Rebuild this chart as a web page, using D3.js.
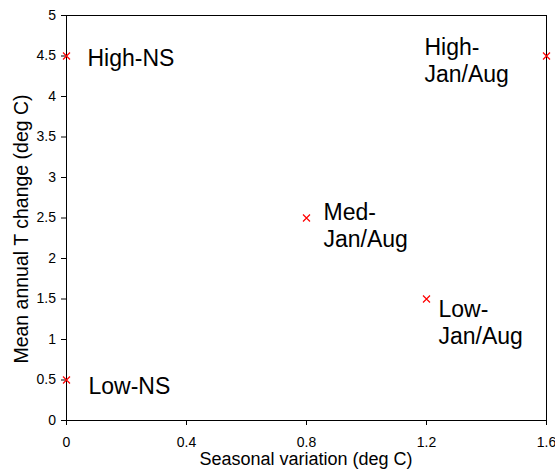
<!DOCTYPE html>
<html>
<head>
<meta charset="utf-8">
<script src="https://cdn.jsdelivr.net/npm/d3@7"></script>
<style>
  body { margin: 0; background: #fff; }
  svg text { font-family: "Liberation Sans", Arial, sans-serif; fill: #000; }
  .axis path, .axis line { stroke: #000; }
</style>
</head>
<body>
<div class="chart"></div>
<script>
// data
const scenarios = ['High-NS', 'Low-NS', 'Med-Jan/Aug', 'Low-Jan/Aug', 'High-Jan/Aug']
const seasonal = [0, 0, 0.8, 1.2, 1.6]
const meanChange = [4.5, 0.5, 2.5, 1.5, 4.5]
const xTicks = [0, 0.4, 0.8, 1.2, 1.6]
const yTicks = [0, 0.5, 1, 1.5, 2, 2.5, 3, 3.5, 4, 4.5, 5]

// label placement (offsets from the marker, px)
const labelOffset = {
    'High-NS': [21, 9.5],
    'Low-NS': [22, 14],
    'Med-Jan/Aug': [17, 2],
    'Low-Jan/Aug': [12, 18],
    'High-Jan/Aug': [-122, -1]
}

const margin = ({top: 15, right: 8, bottom: 53, left: 66})

const data = scenarios.map((s, i) => ({name: s, x: seasonal[i], y: meanChange[i]}))

const svg = d3.select('.chart').append('svg')
    .attr('width', 555)
    .attr('height', 473)
    .append('g')
    .attr('transform', `translate(${margin.left},${margin.top})`)

const xScale = d3.scaleLinear().domain([0, 1.6]).range([0, 480])
const yScale = d3.scaleLinear().domain([0, 5]).range([405, 0])

const xAxis = d3.axisBottom(xScale)
    .tickValues(xTicks)
    .tickFormat(d3.format('~g'))
    .tickSize(5)
    .tickPadding(12)

const yAxis = d3.axisLeft(yScale)
    .tickValues(yTicks)
    .tickFormat(d3.format('~g'))
    .tickSize(5)
    .tickPadding(5)

// frame top/right
svg.append('rect')
    .attr('x', xScale(0) + 0.5)
    .attr('y', yScale(5) + 0.5)
    .attr('width', xScale(1.6) - xScale(0))
    .attr('height', yScale(0) - yScale(5))
    .attr('fill', 'none')
    .attr('stroke', '#000')

svg.append('g')
    .attr('class', 'axis x-axis')
    .attr('transform', `translate(0,${yScale(0)})`)
    .call(xAxis)
    .call(g => g.selectAll('text').style('font-size', '14px'))

svg.append('g')
    .attr('class', 'axis y-axis')
    .call(yAxis)
    .call(g => g.selectAll('text').style('font-size', '14px'))

svg.selectAll('.axis .domain').attr('stroke', '#000')

// markers
const m = 3.5
const pts = svg.selectAll('.pt')
    .data(data)
    .enter()
    .append('g')
    .attr('class', 'pt')
    .attr('transform', d => `translate(${xScale(d.x) + 0.5},${yScale(d.y) + 0.5})`)

pts.append('path')
    .attr('d', `M${-m},${-m}L${m},${m}M${-m},${m}L${m},${-m}`)
    .attr('stroke', '#ff0000')
    .attr('stroke-width', 1.2)
    .attr('fill', 'none')

// labels
pts.append('text')
    .attr('x', d => labelOffset[d.name][0])
    .attr('y', d => labelOffset[d.name][1])
    .style('font-size', '23px')
    .each(function(d) {
        const parts = d.name.includes('Jan') ? [d.name.split('-')[0] + '-', d.name.split('-')[1]] : [d.name]
        const t = d3.select(this)
        parts.forEach((p, i) => {
            t.append('tspan')
                .attr('x', labelOffset[d.name][0])
                .attr('dy', i === 0 ? 0 : 27)
                .text(p)
        })
    })

// axis titles
svg.append('text')
    .attr('x', xScale(0.8))
    .attr('y', 450)
    .attr('text-anchor', 'middle')
    .style('font-size', '18px')
    .text('Seasonal variation (deg C)')

svg.append('text')
    .attr('transform', `translate(-38,${214}) rotate(-90)`)
    .attr('text-anchor', 'middle')
    .style('font-size', '19.5px')
    .text('Mean annual T change (deg C)')
</script>
</body>
</html>
